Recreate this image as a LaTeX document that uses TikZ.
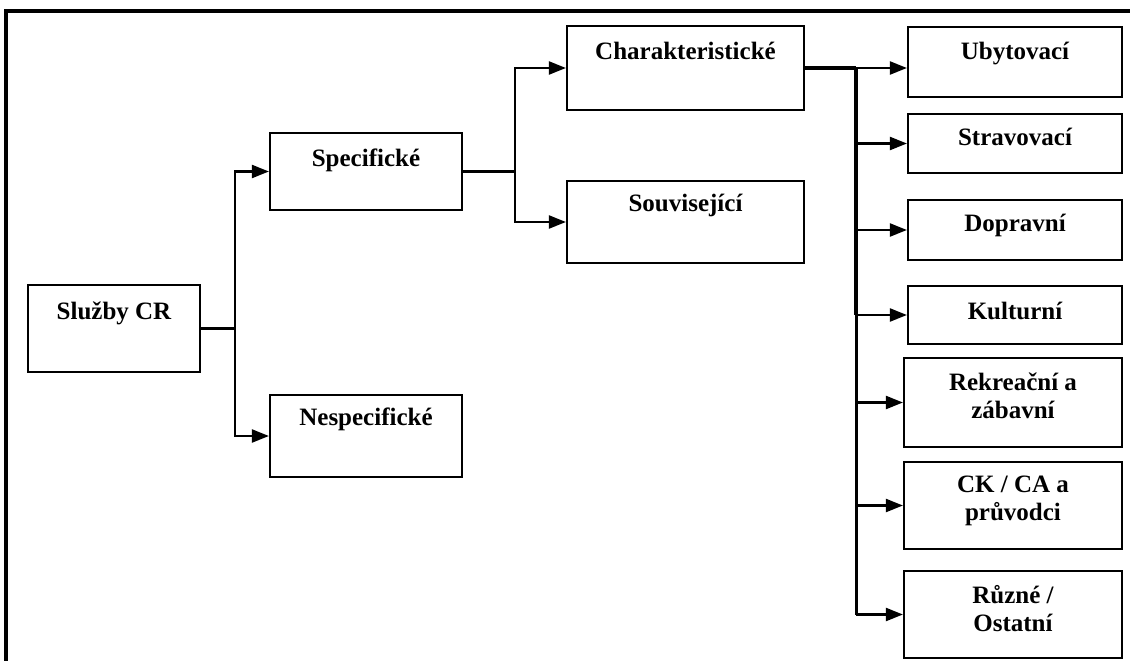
\documentclass[tikz,border=0pt]{standalone}
\usepackage{fontspec}
\setmainfont{Liberation Serif}
\usetikzlibrary{arrows.meta,calc}

\begin{document}
\begin{tikzpicture}[
        x=1pt, y=-1pt,
        box/.style={draw, line width=2.2pt, inner sep=0pt},
        txt/.style={font=\fontsize{25}{28}\selectfont\bfseries, align=center,
            anchor=base, inner sep=0pt},
        link/.style={line width=2.2pt, line join=miter},
        arr/.style={link, -{Triangle[length=17pt,width=13pt]}},
        trunk/.style={line width=4pt},
        frame/.style={line width=3.2pt, line join=miter},
    ]
    \useasboundingbox (0,0) rectangle (1130,661);
    % frame
    \draw[frame] (6,661) -- (6,11) -- (1130,11);
    % boxes
    \node[box, minimum width=172pt, minimum height=87pt] (sluzby) at (114,328.5) {};
    \node[box, minimum width=192pt, minimum height=77pt] (spec) at (366,171.5) {};
    \node[box, minimum width=192pt, minimum height=82pt] (nespec) at (366,436) {};
    \node[box, minimum width=237pt, minimum height=84pt] (char) at (685.5,68) {};
    \node[box, minimum width=237pt, minimum height=82pt] (souv) at (685.5,222) {};
    \node[box, minimum width=214pt, minimum height=70pt] (ubyt) at (1015,62) {};
    \node[box, minimum width=214pt, minimum height=59pt] (strav) at (1015,143.5) {};
    \node[box, minimum width=214pt, minimum height=60pt] (doprav) at (1015,230) {};
    \node[box, minimum width=214pt, minimum height=58pt] (kult) at (1015,315) {};
    \node[box, minimum width=218pt, minimum height=89pt] (rekr) at (1013,402.5) {};
    \node[box, minimum width=218pt, minimum height=87pt] (ck) at (1013,505.5) {};
    \node[box, minimum width=218pt, minimum height=87pt] (ruzne) at (1013,614.5) {};
    % texts (base = last line)
    \node[txt] (sluzby-t) at ($(sluzby.north)+(0,36)$) {Služby CR};
    \node[txt] (spec-t) at ($(spec.north)+(0,35)$) {Specifické};
    \node[txt] (nespec-t) at ($(nespec.north)+(0,32)$) {Nespecifické};
    \node[txt] (char-t) at ($(char.north)+(0,35)$) {Charakteristické};
    \node[txt] (souv-t) at ($(souv.north)+(0,32)$) {Související};
    \node[txt] (ubyt-t) at ($(ubyt.north)+(0,34)$) {Ubytovací};
    \node[txt] (strav-t) at ($(strav.north)+(0,33)$) {Stravovací};
    \node[txt] (doprav-t) at ($(doprav.north)+(0,33)$) {Dopravní};
    \node[txt] (kult-t) at ($(kult.north)+(0,35)$) {Kulturní};
    \node[txt] (rekr-t) at ($(rekr.north)+(0,62)$) {Rekreační a\\zábavní};
    \node[txt] (ck-t) at ($(ck.north)+(0,60)$) {CK / CA a\\průvodci};
    \node[txt] (ruzne-t) at ($(ruzne.north)+(0,62)$) {Různé /\\Ostatní};
    % connectors
    \draw[link] (sluzby.east) -- ++(34,0) coordinate (b1);
    \draw[arr] (b1) |- (spec.west);
    \draw[arr] (b1) |- (nespec.west);
    \draw[link] (spec.east) -- ++(52,0) coordinate (b2);
    \draw[arr] (b2) |- (char.west);
    \draw[arr] (b2) |- (souv.west);
    \draw[link, line width=3.2pt] (char.east) -- ++(51,0) coordinate (t);
    \draw[arr] (t) -- (t -| ubyt.west);
    \draw[trunk] (t) -- (t |- kult.west);
    \draw[link, line width=2.8pt] (t |- kult.west) -- (t |- ruzne.west);
    \foreach \n in {strav,doprav,kult,rekr,ck,ruzne}
        \draw[arr] (t |- \n.west) -- (\n.west);
\end{tikzpicture}
\end{document}
